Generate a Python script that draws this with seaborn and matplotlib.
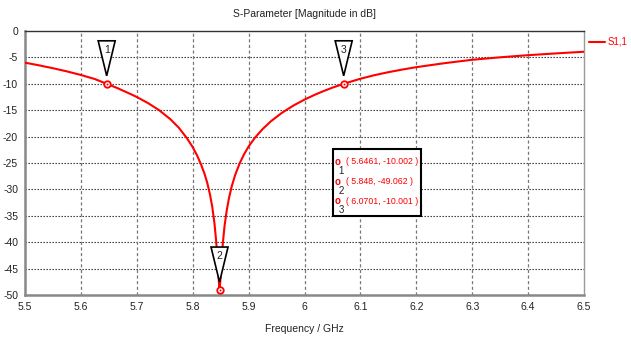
import numpy as np
import pandas as pd
import matplotlib
matplotlib.use("Agg")
import matplotlib.pyplot as plt
import matplotlib.transforms as mtransforms
from matplotlib.patches import Polygon, Rectangle
import seaborn as sns

# ---- data ----
freq = [5.50, 5.525, 5.55, 5.575, 5.60, 5.625, 5.6461, 5.665, 5.688, 5.70,
        5.72, 5.74, 5.76, 5.775, 5.79, 5.80, 5.808, 5.815, 5.821, 5.826,
        5.831, 5.835, 5.839, 5.842, 5.844, 5.846, 5.848, 5.850, 5.852, 5.854,
        5.857, 5.861, 5.865, 5.870, 5.876, 5.884, 5.892, 5.90, 5.911, 5.925,
        5.94, 5.959, 5.98, 6.00, 6.02, 6.035, 6.05, 6.0701, 6.10, 6.125,
        6.15, 6.175, 6.20, 6.25, 6.30, 6.35, 6.40, 6.45, 6.50]
s11 = [-6.0, -6.5, -7.05, -7.65, -8.33, -9.1, -10.0, -10.8, -11.9, -12.5,
       -13.65, -15.0, -16.7, -18.3, -20.35, -22.0, -23.6, -25.3, -27.0, -28.75,
       -31.0, -33.3, -36.5, -39.8, -42.8, -46.2, -49.06, -46.6, -43.0, -40.1,
       -36.9, -33.9, -31.6, -29.35, -27.26, -25.07, -23.33, -21.88, -20.26, -18.58,
       -17.09, -15.54, -14.13, -12.99, -12.0, -11.34, -10.73, -10.0, -9.04, -8.37,
       -7.8, -7.3, -6.85, -6.1, -5.45, -4.98, -4.58, -4.24, -3.93]
marker_ids = ["1", "2", "3"]
marker_f = [5.6461, 5.848, 6.0701]
marker_v = [-10.002, -49.062, -10.001]
marker_txt = ["5.6461", "5.848", "6.0701"]
marker_vtxt = ["-10.002", "-49.062", "-10.001"]
series_name = "S1,1"
title = "S-Parameter [Magnitude in dB]"
xlabel = "Frequency / GHz"
xticks = [5.5, 5.6, 5.7, 5.8, 5.9, 6.0, 6.1, 6.2, 6.3, 6.4, 6.5]
xticklabels = ["5.5", "5.6", "5.7", "5.8", "5.9", "6", "6.1", "6.2", "6.3", "6.4", "6.5"]
yticks = [0, -5, -10, -15, -20, -25, -30, -35, -40, -45, -50]

df = pd.DataFrame({"f": freq, "v": s11})
dm = pd.DataFrame({"f": marker_f, "v": marker_v})

sns.set_style("white")
plt.rcParams["font.family"] = ["Liberation Sans", "DejaVu Sans"]

W, H = 631, 343
fig = plt.figure(figsize=(W / 100, H / 100), dpi=100)
ax = fig.add_axes([25 / W, 1 - 295 / H, (584 - 25) / W, (295 - 31) / H])

RED = "#ff0000"
TXT = "#222222"
sns.lineplot(data=df, x="f", y="v", ax=ax, color=RED, linewidth=1.5,
             label=series_name, zorder=3)
sns.scatterplot(data=dm, x="f", y="v", ax=ax, marker="o", s=22,
                facecolor="white", edgecolor=RED, linewidth=1.3, zorder=5, legend=False)
sns.scatterplot(data=dm, x="f", y="v", ax=ax, marker="o", s=2,
                color=RED, linewidth=0, zorder=6, legend=False)

ax.set_xlim(5.5, 6.5)
ax.set_ylim(-50, 0)
ax.set_xticks(xticks)
ax.set_xticklabels(xticklabels)
ax.set_yticks(yticks)
ax.set_yticklabels([str(t) for t in yticks])
ax.tick_params(axis="both", labelsize=7.5, labelcolor=TXT, length=3, width=1,
               direction="out", pad=2, color="#888888")
ax.set_xlabel(xlabel, fontsize=7.5, color=TXT, labelpad=9)
ax.set_ylabel("")
ax.set_title(title, fontsize=7.5, color=TXT, pad=10)

# grid
for t in yticks[1:-1]:
    ax.axhline(t, color=TXT, linewidth=0.8, linestyle=(0, (1.2, 1.5)), zorder=1)
for t in xticks[1:-1]:
    ax.axvline(t, color="#777777", linewidth=0.9, linestyle=(0, (2.5, 2)), zorder=1)

for side in ["left", "bottom"]:
    ax.spines[side].set_color("#888888")
    ax.spines[side].set_linewidth(1.8)
ax.spines["top"].set_color("#333333")
ax.spines["top"].set_linewidth(1.0)
ax.spines["right"].set_color("#999999")
ax.spines["right"].set_linewidth(1.0)

# marker flags (inverted triangles), in pixels relative to each marker point
tri = np.array([[-8.5, 43], [8.5, 43], [0, 8]]) / 100.0
for mid, f, v in zip(marker_ids, marker_f, marker_v):
    tr = fig.dpi_scale_trans + mtransforms.ScaledTranslation(f, v, ax.transData)
    ax.add_patch(Polygon(tri, closed=True, facecolor="white", edgecolor="black",
                         linewidth=1.2, transform=tr, zorder=7, clip_on=False))
    ax.text(0, 0.34, mid, transform=tr, ha="center", va="center", fontsize=7.5,
            color=TXT, zorder=8)

# marker value box (figure pixels)
bx0, by0, bx1, by1 = 333, 149, 421, 216
fig.patches.append(Rectangle((bx0 / W, 1 - by1 / H), (bx1 - bx0) / W, (by1 - by0) / H,
                             transform=fig.transFigure, facecolor="white",
                             edgecolor="black", linewidth=1.5, zorder=9))
rows_y = [162, 182, 201]
for mid, ft, vt, ry in zip(marker_ids, marker_txt, marker_vtxt, rows_y):
    fig.text(338 / W, 1 - ry / H, "o", color=RED, fontsize=7, ha="center",
             va="center", zorder=10, fontweight="bold")
    fig.text(341 / W, 1 - (ry + 9) / H, mid, color=TXT, fontsize=7,
             ha="center", va="center", zorder=10)
    fig.text(346 / W, 1 - ry / H, f"( {ft}, {vt} )", color=RED, fontsize=6.3,
             ha="left", va="center", zorder=10)

leg = ax.legend(loc="center left", bbox_to_anchor=(589 / W, 1 - 42 / H),
                bbox_transform=fig.transFigure, frameon=False, fontsize=7,
                handlelength=1.6, handletextpad=0.35, labelcolor=RED,
                borderaxespad=0, borderpad=0)

fig.savefig("out.png", dpi=100)
